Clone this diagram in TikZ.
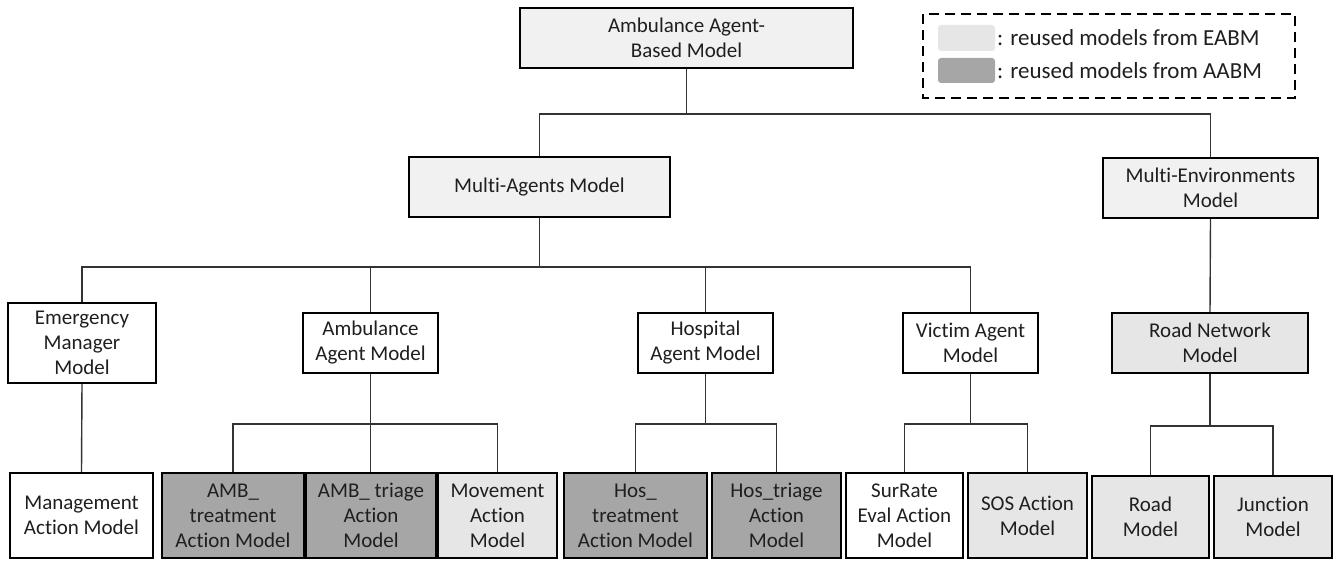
\documentclass[tikz,border=0pt]{standalone}
\usepackage{fontspec}
\setmainfont{Carlito}[Ligatures=NoCommon]
\definecolor{topgray}{HTML}{F1F1F1}
\definecolor{eabmgray}{HTML}{E6E6E6}
\definecolor{aabmgray}{HTML}{A6A6A6}
\definecolor{linkgray}{HTML}{333333}
\tikzset{
  box/.style={draw=black, line width=2pt, align=center, inner sep=0pt,
              text=black!88, font=\fontsize{21}{25}\selectfont},
  topbox/.style={box, fill=topgray},
  eabm/.style={box, fill=eabmgray},
  aabm/.style={box, fill=aabmgray},
  plain/.style={box, fill=white},
  link/.style={draw=linkgray, line width=1.4pt},
  swatch/.style={rounded corners=3pt, draw=none},
  legendtext/.style={anchor=west, inner sep=0pt, text=black!88,
                     font=\fontsize{23}{27}\selectfont},
}
% \modelbox{name}{x1}{y1}{x2}{y2}{style}{text}: box given by its corners
\newcommand\modelbox[7]{%
  \node[#6, minimum width={(#4-#2)*1pt}, minimum height={(#5-#3)*1pt}]
    (#1) at ({(#2+#4)/2},{(#3+#5)/2}) {#7};}
\begin{document}
\begin{tikzpicture}[x=1pt, y=-1pt]
\useasboundingbox (0,0) rectangle (1334,561);

% root and second level
\modelbox{abm}{520}{8}{853}{68}{topbox}{Ambulance Agent-\\Based Model}
\modelbox{mam}{409}{157}{670}{217}{topbox}{Multi-Agents Model}
\modelbox{mem}{1103}{158}{1318}{218}{topbox}{Multi-Environments\\Model}

% third level
\modelbox{em}{8}{303}{156}{383}{plain}{Emergency\\Manager\\Model}
\modelbox{amb}{303}{313}{438}{373}{plain}{Ambulance\\Agent Model}
\modelbox{hos}{638}{313}{773}{373}{plain}{Hospital\\Agent Model}
\modelbox{vic}{903}{313}{1038}{373}{plain}{Victim Agent\\Model}
\modelbox{rn}{1112}{313}{1308}{373}{eabm}{Road Network\\Model}

% leaf level
\modelbox{man}{10}{473}{153}{558}{plain}{Management\\Action Model}
\modelbox{amt}{162}{473}{304}{558}{aabm}{AMB\_\\treatment\\Action Model}
\modelbox{amtr}{306}{473}{436}{558}{aabm}{AMB\_ triage\\Action\\Model}
\modelbox{mov}{438}{473}{557}{558}{eabm}{Movement\\Action\\Model}
\modelbox{hot}{564}{473}{707}{558}{aabm}{Hos\_\\treatment\\Action Model}
\modelbox{hotr}{712}{473}{841}{558}{aabm}{Hos\_triage\\Action\\Model}
\modelbox{sur}{846}{473}{963}{558}{plain}{SurRate\\Eval Action\\Model}
\modelbox{sos}{968}{473}{1087}{558}{eabm}{SOS Action\\Model}
\modelbox{road}{1092}{476}{1209}{558}{eabm}{Road\\Model}
\modelbox{jun}{1214}{476}{1332}{558}{eabm}{Junction\\Model}

% connectors
\draw[link] (abm.south) -- ++(0,45) coordinate (j1);
\draw[link] (mam.north) |- (j1) -| (mem.north);

\draw[link] (mam.south) -- ++(0,49) coordinate (j2);
\draw[link] (em.north) |- (j2) -| (vic.north);
\draw[link] (amb.north) -- (amb.north |- j2);
\draw[link] (hos.north) -- (hos.north |- j2);
\draw[link] (mem.south) -- (rn.north);

\draw[link] (em.south) -- (man.north);
\draw[link] (amb.south) -- ++(0,50) coordinate (j3);
\draw[link] (amt.north) |- (j3) -| (mov.north);
\draw[link] (j3) -- (j3 |- amtr.north);
\draw[link] (hos.south) -- ++(0,50) coordinate (j4);
\draw[link] (hot.north) |- (j4) -| (hotr.north);
\draw[link] (vic.south) -- ++(0,50) coordinate (j5);
\draw[link] (sur.north) |- (j5) -| (sos.north);
\draw[link] (rn.south) -- ++(0,52) coordinate (j6);
\draw[link] (road.north) |- (j6) -| (jun.north);

% legend
\draw[line width=2pt, dash pattern=on 10pt off 6pt] (923,14) rectangle (1295,98);
\fill[swatch, eabmgray] (938,25) rectangle (995,51);
\fill[swatch, aabmgray] (938,58) rectangle (995,83);
\node[legendtext] (leg1) at (997,38) {: reused models from EABM};
\node[legendtext] (leg2) at (997,71) {: reused models from AABM};
\end{tikzpicture}
\end{document}
